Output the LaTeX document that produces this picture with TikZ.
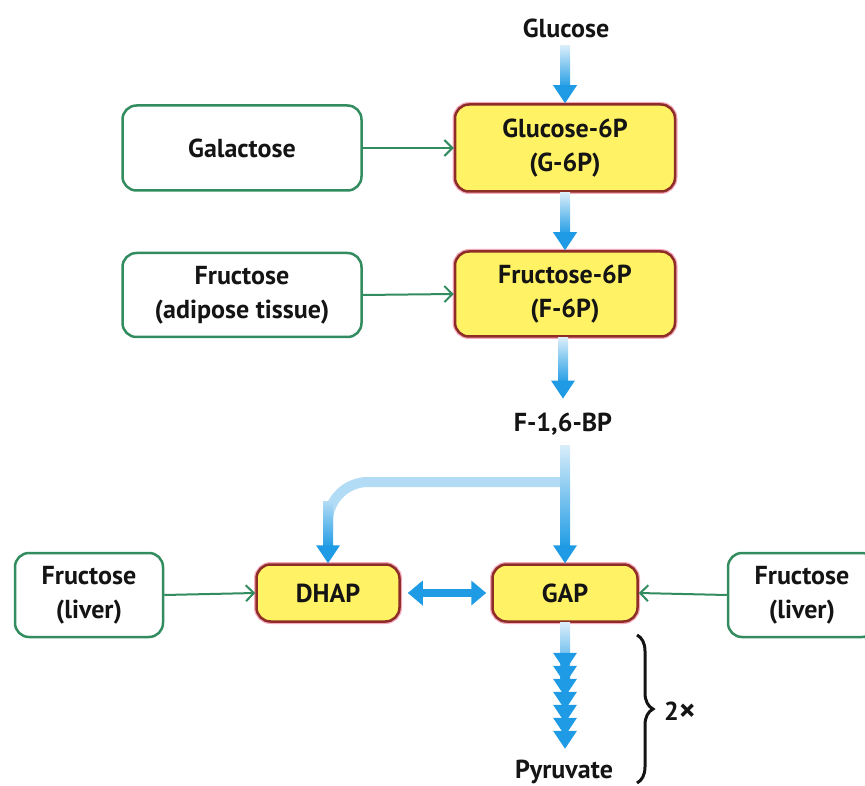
\documentclass[tikz,border=0pt]{standalone}
\usepackage{fontspec}
\setmainfont{PT Sans}
\usetikzlibrary{arrows.meta,calc,decorations.pathreplacing}
\definecolor{bluec}{RGB}{30,155,228}
\definecolor{bluepale}{RGB}{178,219,245}
\definecolor{greenc}{RGB}{50,140,95}
\definecolor{yellowc}{RGB}{255,242,100}
\definecolor{redc}{RGB}{140,45,40}
\definecolor{halo}{RGB}{245,170,190}
\definecolor{txt}{RGB}{20,20,20}
\newcommand\flowdown[2]{%
  \path #1 coordinate (fs) #2 coordinate (fe);
  \shade[top color=bluepale!50, bottom color=bluec] let \p1=(fs), \p2=(fe) in (\x2-5,\y1) rectangle (\x2+5,\y2+15);
  \fill[bluec] let \p2=(fe) in (\x2-12,\y2+18) -- (\x2+12,\y2+18) -- (\x2,\y2) -- cycle;
}
\begin{document}
\begin{tikzpicture}[x=1pt,y=1pt,
  every node/.style={font=\fontsize{26}{34}\selectfont\bfseries, text=txt},
  srcbox/.style={draw=greenc, line width=2.5pt, rounded corners=14pt, fill=white, align=center, inner sep=0pt},
  metbox/.style={preaction={draw=halo, line width=5pt}, draw=redc, line width=2.5pt, rounded corners=14pt, fill=yellowc, align=center, inner sep=0pt},
  lbl/.style={inner sep=0pt},
  feed/.style={draw=greenc, line width=2pt, -{Straight Barb[length=8pt,width=16pt,line width=2pt]}},
]
\useasboundingbox (0,0) rectangle (865,-786);
\clip (0,0) rectangle (865,-786);

% nodes
\node[lbl] (glc) at (566,-28) {Glucose};
\node[metbox, minimum width=220pt, minimum height=87pt] (g6p) at (565,-148) {Glucose-6P\\(G-6P)};
\node[srcbox, minimum width=239pt, minimum height=85pt] (gal) at (242,-148) {Galactose};
\node[metbox, minimum width=220pt, minimum height=85pt] (f6p) at (565,-294) {Fructose-6P\\(F-6P)};
\node[srcbox, minimum width=239pt, minimum height=84pt] (fra) at (242,-295) {Fructose\\(adipose tissue)};
\node[lbl] (fbp) at (563,-424) {F-1,6-BP};
\node[metbox, minimum width=143pt, minimum height=57pt] (dhap) at (328,-593) {DHAP};
\node[metbox, minimum width=145pt, minimum height=57pt] (gap) at (565,-593) {GAP};
\node[srcbox, minimum width=148pt, minimum height=84pt] (frl) at (89,-595) {Fructose\\(liver)};
\node[srcbox, minimum width=148pt, minimum height=84pt] (frr) at (802,-595) {Fructose\\(liver)};
\node[lbl] (pyr) at (564,-772) {Pyruvate};
\node[lbl, anchor=west] (two) at (664,-712) {2{\fontsize{32}{34}\selectfont\raisebox{-1pt}{×}}};

% green feeder arrows
\draw[feed] (gal.east) -- (g6p.west);
\draw[feed] (fra.east) -- (f6p.west);
\draw[feed] (frl.east) -- (dhap.west);
\draw[feed] (frr.west) -- (gap.east);

% blue main flow
\flowdown{($(glc.south)+(0,-8)$)}{(g6p.north)}
\flowdown{(g6p.south)}{(f6p.north)}
\flowdown{(f6p.south)}{($(fbp.north)+(0,14)$)}

% split to DHAP and GAP
\coordinate (sy) at (0,-482);
\coordinate (split) at (gap.north |- sy);
\draw[bluepale, line width=10pt, rounded corners=40pt] (split) -| ($(dhap.north)+(0,30)$);
\shade[top color=bluepale, bottom color=bluec] ($(dhap.north)+(-5,62)$) rectangle ($(dhap.north)+(5,15)$);
\fill[bluec] ($(dhap.north)+(-12,18)$) -- ($(dhap.north)+(12,18)$) -- (dhap.north) -- cycle;
\flowdown{($(fbp.south)+(0,-10)$)}{(gap.north)}

% DHAP <-> GAP
\draw[bluec, line width=8pt, {Triangle[width=24pt,length=15pt]}-{Triangle[width=24pt,length=15pt]}, shorten <=7pt, shorten >=5pt] (dhap.east) -- (gap.west);

% GAP -> pyruvate (multi-step)
\shade[top color=bluepale!50, bottom color=bluec] ($(gap.south)+(-5,0)$) rectangle ($(gap.south)+(5,-60)$);
\foreach \d in {0,...,6} {
  \fill[bluec] ($(gap.south)+(-12,-30-\d*13)$) -- ($(gap.south)+(12,-30-\d*13)$) -- ($(gap.south)+(0,-48-\d*13)$) -- cycle;
}

% brace
\coordinate (bt) at (637,-635);
\coordinate (bb) at (637,-783);
\draw[txt, line width=3pt, decorate, decoration={brace, amplitude=16pt}] (bt) -- (bb);
\end{tikzpicture}
\end{document}
